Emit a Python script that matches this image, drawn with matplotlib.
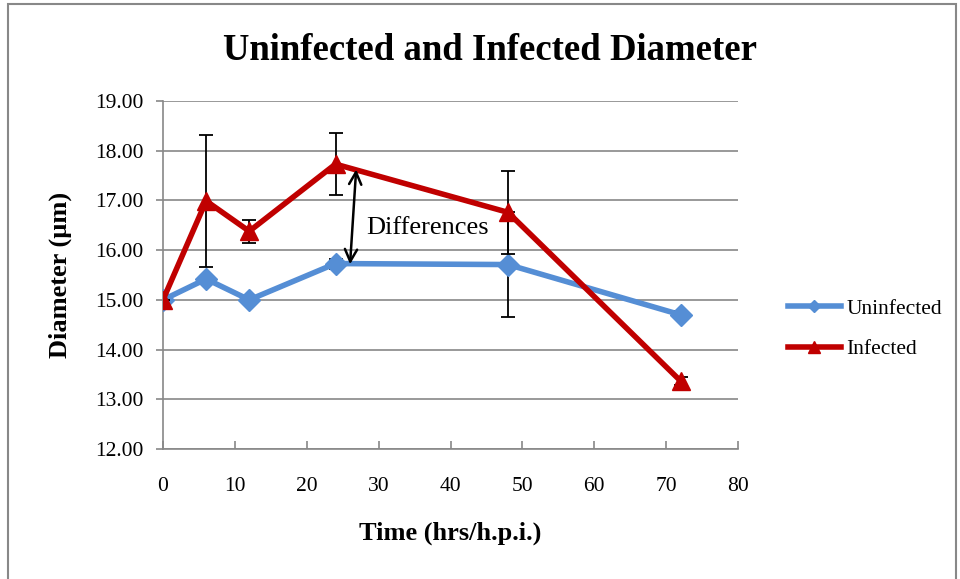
import matplotlib
matplotlib.use("Agg")
import matplotlib.pyplot as plt
from matplotlib.patches import Rectangle
from matplotlib.lines import Line2D

time = [0, 6, 12, 24, 48, 72]
uninfected = [15.0, 15.42, 15.0, 15.73, 15.71, 14.70]
uninfected_err = [0.0, 0.06, 0.05, 0.1, 1.05, 0.07]
infected = [15.0, 16.99, 16.38, 17.73, 16.76, 13.37]
infected_err = [0.0, 1.33, 0.23, 0.63, 0.83, 0.08]
yticks = [12, 13, 14, 15, 16, 17, 18, 19]
xticks = [0, 10, 20, 30, 40, 50, 60, 70, 80]

plt.rcParams['font.family'] = ['Liberation Serif', 'DejaVu Serif']

fig = plt.figure(figsize=(9.6, 5.79), dpi=100)
ax = fig.add_axes([163/960, 1-449/579, (738-163)/960, (449-101)/579])

fig.patches.append(Rectangle((8/960, -0.02), (956-8)/960, 1.02-4/579,
                             transform=fig.transFigure, fill=False,
                             edgecolor='#888888', linewidth=1.5))

blue = '#558ED5'
red = '#C00000'

ax.errorbar(time, uninfected, yerr=uninfected_err, color=blue, lw=4,
            marker='D', markersize=11, ecolor='black', elinewidth=1.3,
            capsize=5, capthick=1.3, zorder=3)
ax.errorbar(time, infected, yerr=infected_err, color=red, lw=4,
            marker='^', markersize=13, ecolor='black', elinewidth=1.3,
            capsize=5, capthick=1.3, zorder=4)

ax.annotate('', xy=(26.9, 17.68), xytext=(26.0, 15.66),
            arrowprops=dict(arrowstyle='<->', color='black', lw=1.8,
                            mutation_scale=22), zorder=6)
ax.text(28.3, 16.45, 'Differences', fontsize=19, ha='left', va='center',
        zorder=7, bbox=dict(facecolor='white', edgecolor='none', pad=0.5))

ax.set_xlim(0, 80)
ax.set_ylim(12, 19)
ax.set_xticks(xticks)
ax.set_yticks(yticks)
ax.set_yticklabels([f'{v:.2f}' for v in yticks])
ax.tick_params(axis='both', labelsize=15.5, colors='#888888', labelcolor='black')
ax.tick_params(axis='x', direction='in', length=6, width=1.2, pad=20)
ax.tick_params(axis='y', direction='out', length=5, width=1.2, pad=9)
ax.yaxis.grid(True, color='#888888', lw=1.2)
ax.set_axisbelow(True)
for s in ['top', 'right']:
    ax.spines[s].set_visible(False)
for s in ['left', 'bottom']:
    ax.spines[s].set_color('#888888')
    ax.spines[s].set_linewidth(1.2)

fig.text(490/960, 1-51/579, 'Uninfected and Infected Diameter', fontsize=26.5,
         fontweight='bold', ha='center', va='center')
fig.text(450/960, 1-533/579, 'Time (hrs/h.p.i.)', fontsize=19,
         fontweight='bold', ha='center', va='center')
fig.text(60/960, 1-275/579, 'Diameter (µm)', fontsize=19, fontweight='bold',
         ha='center', va='center', rotation=90)

handles = [Line2D([], [], color=blue, lw=4, marker='D', markersize=6),
           Line2D([], [], color=red, lw=4, marker='^', markersize=8)]
leg = ax.legend(handles, ['Uninfected', 'Infected'], loc='center left',
                bbox_to_anchor=(788/960, 1-329/579),
                bbox_transform=fig.transFigure, frameon=False, fontsize=15.5,
                handlelength=2.45, handletextpad=0.25, labelspacing=0.95,
                borderaxespad=0, borderpad=0)

fig.savefig('out.png', dpi=100)
